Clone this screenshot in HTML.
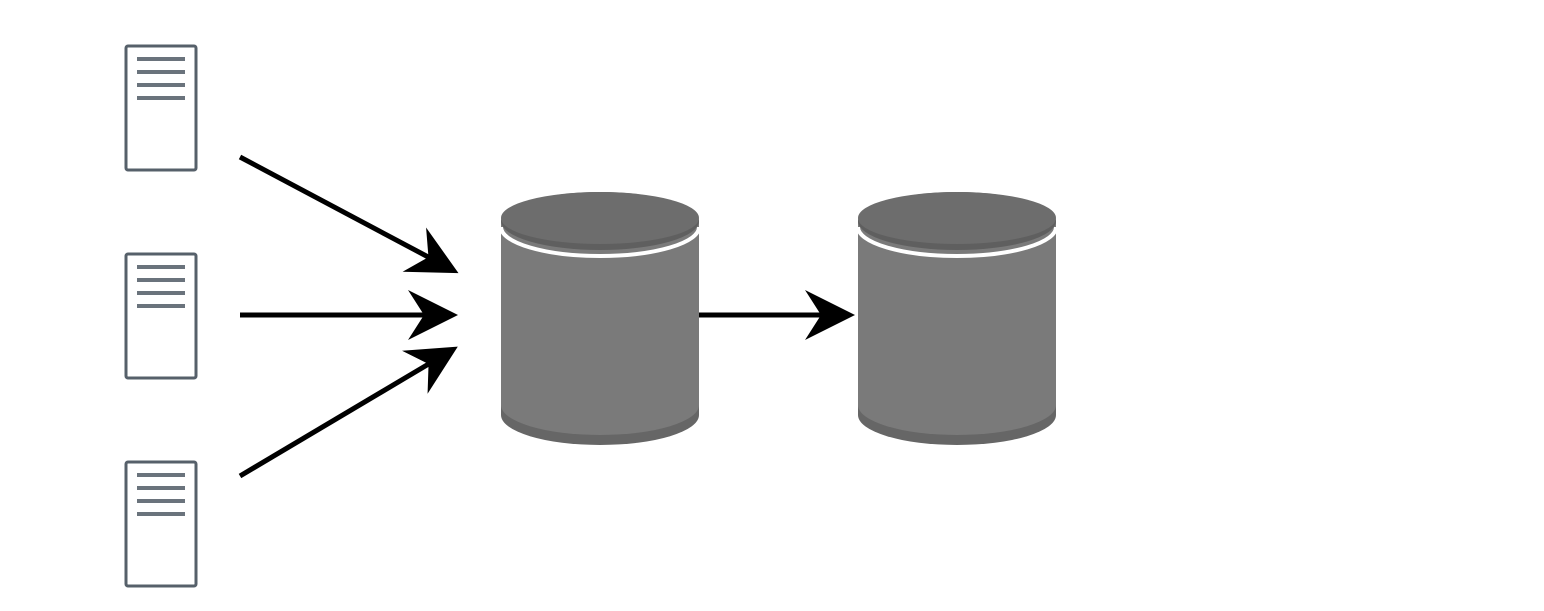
<!DOCTYPE html>
<html><head><style>body{margin:0;background:#fff}</style></head><body>
<svg width="1544" height="606" viewBox="0 0 1544 606" xmlns="http://www.w3.org/2000/svg">
<defs>
<marker id="a" markerUnits="userSpaceOnUse" markerWidth="60" markerHeight="60" refX="20" refY="25" orient="auto" overflow="visible">
<path d="M0,0 L50,25 L0,50 L16,25 Z" fill="#000"/>
</marker>
<g id="doc">
<rect x="126" y="46" width="70" height="124" rx="2" fill="#fff" stroke="#56606a" stroke-width="3"/>
<g stroke="#6a737c" stroke-width="4">
<line x1="137" y1="59" x2="185" y2="59"/><line x1="137" y1="72" x2="185" y2="72"/>
<line x1="137" y1="85" x2="185" y2="85"/><line x1="137" y1="98" x2="185" y2="98"/>
</g>
</g>
<g id="cyl">
<path d="M501,220 V415 A99,30 0 0 0 699,415 V220 Z" fill="#666"/>
<path d="M501,220 V405 A99,30 0 0 0 699,405 V220 Z" fill="#7a7a7a"/>
<path d="M501,227 A99,29 0 0 0 699,227" fill="none" stroke="#fff" stroke-width="4"/>
<ellipse cx="600" cy="221" rx="99" ry="29" fill="#5f5f5f"/>
<ellipse cx="600" cy="218" rx="99" ry="26" fill="#6d6d6d"/>
</g>
</defs>
<use href="#doc"/>
<use href="#doc" y="208"/>
<use href="#doc" y="416"/>
<use href="#cyl"/>
<use href="#cyl" x="357"/>
<g stroke="#000" stroke-width="5" fill="none">
<line x1="240" y1="157" x2="432" y2="259" marker-end="url(#a)"/>
<line x1="240" y1="315" x2="428" y2="315" marker-end="url(#a)"/>
<line x1="240" y1="476" x2="432" y2="362" marker-end="url(#a)"/>
<line x1="699" y1="315" x2="825" y2="315" marker-end="url(#a)"/>
</g>
</svg>
</body></html>
